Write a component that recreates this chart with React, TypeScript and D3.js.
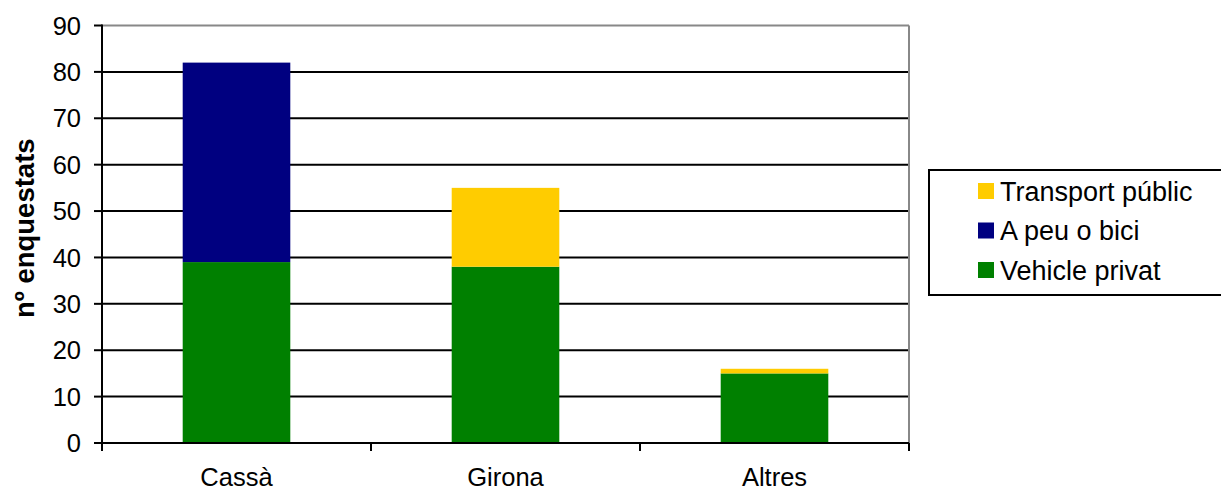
import React from "react";
import * as d3 from "d3";

const categories = ["Cassà", "Girona", "Altres"];
const vehiclePrivat = [39, 38, 15];
const aPeuOBici = [43, 0, 0];
const transportPublic = [0, 17, 1];
const yTicks = [0, 10, 20, 30, 40, 50, 60, 70, 80, 90];

const seriesNames = ["Vehicle privat", "A peu o bici", "Transport públic"];
const seriesColors = ["#008000", "#000080", "#FFCC00"];

const W = 1229;
const H = 496;
const margin = { left: 102, right: 320, top: 25.5, bottom: 53 };
const FONT = "'Liberation Sans', Arial, Helvetica, sans-serif";

export default function App() {
  const plotRight = W - margin.right;
  const plotBottom = H - margin.bottom;

  const x = d3.scaleBand<string>().domain(categories).range([margin.left, plotRight]).paddingInner(0.6).paddingOuter(0.3);
  const xBand = d3.scaleBand<string>().domain(categories).range([margin.left, plotRight]);
  const y = d3.scaleLinear().domain([0, 90]).range([plotBottom, margin.top]);

  const rows = categories.map((c, i) => ({
    cat: c,
    "Vehicle privat": vehiclePrivat[i],
    "A peu o bici": aPeuOBici[i],
    "Transport públic": transportPublic[i],
  }));
  const stacked = d3.stack<any>().keys(seriesNames)(rows);

  const legendItems = [
    { name: "Transport públic", color: seriesColors[2] },
    { name: "A peu o bici", color: seriesColors[1] },
    { name: "Vehicle privat", color: seriesColors[0] },
  ];

  const boundaries = [...categories.map((c) => xBand(c)!), plotRight];

  return (
    <svg width={W} height={H} style={{ display: "block", margin: "-8px" }} fontFamily={FONT}>
      <rect x={0} y={0} width={W} height={H} fill="#fff" />
      {/* gridlines */}
      {yTicks.slice(1, -1).map((t) => (
        <line key={t} x1={margin.left} x2={plotRight} y1={y(t)} y2={y(t)} stroke="#000" strokeWidth={2} />
      ))}
      {/* plot border top and right */}
      <line x1={margin.left} x2={plotRight} y1={y(90)} y2={y(90)} stroke="#888" strokeWidth={2} />
      <line x1={plotRight} x2={plotRight} y1={y(90)} y2={plotBottom} stroke="#888" strokeWidth={2} />

      {/* bars */}
      {stacked.map((s, si) =>
        s.map((d, i) =>
          d[1] - d[0] > 0 ? (
            <rect
              key={`${si}-${i}`}
              x={x(categories[i])}
              width={x.bandwidth()}
              y={y(d[1])}
              height={y(d[0]) - y(d[1])}
              fill={seriesColors[si]}
            />
          ) : null
        )
      )}

      {/* y axis */}
      <line x1={margin.left} x2={margin.left} y1={y(90) - 1} y2={plotBottom + 8} stroke="#000" strokeWidth={2} />
      {yTicks.map((t) => (
        <g key={t}>
          <line x1={margin.left - 8} x2={margin.left} y1={y(t)} y2={y(t)} stroke="#000" strokeWidth={2} />
          <text x={margin.left - 21} y={y(t)} dy="0.36em" textAnchor="end" fontSize={25.5} fill="#000">
            {t}
          </text>
        </g>
      ))}

      {/* x axis */}
      <line x1={margin.left} x2={plotRight} y1={plotBottom} y2={plotBottom} stroke="#000" strokeWidth={2} />
      {boundaries.map((b, i) => (
        <line key={i} x1={b} x2={b} y1={plotBottom} y2={plotBottom + 8} stroke="#000" strokeWidth={2} />
      ))}
      {categories.map((c) => (
        <text key={c} x={xBand(c)! + xBand.bandwidth() / 2} y={486} textAnchor="middle" fontSize={25.5} fill="#000">
          {c}
        </text>
      ))}

      {/* y axis title */}
      <text
        transform={`translate(34, ${(margin.top + plotBottom) / 2 - 6}) rotate(-90)`}
        textAnchor="middle"
        fontSize={27.5}
        fontWeight="bold"
        fill="#000"
      >
        nº enquestats
      </text>

      {/* legend */}
      <rect x={929} y={170} width={298} height={125} fill="#fff" stroke="#000" strokeWidth={2} />
      {legendItems.map((it, i) => {
        const cy = 191 + i * 39.5;
        return (
          <g key={it.name}>
            <rect x={978} y={cy - 8} width={16} height={16} fill={it.color} />
            <text x={1000} y={cy} dy="0.36em" fontSize={27} fill="#000">
              {it.name}
            </text>
          </g>
        );
      })}
    </svg>
  );
}
